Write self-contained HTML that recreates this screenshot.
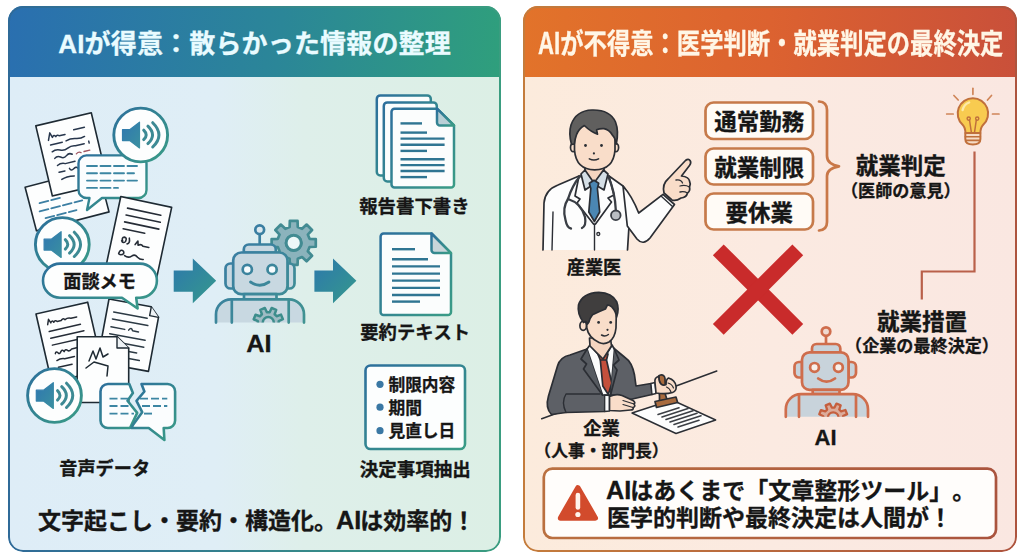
<!DOCTYPE html>
<html lang="ja">
<head>
<meta charset="utf-8">
<title>AIが得意・不得意</title>
<style>
html,body{margin:0;padding:0;background:#fff;}
body{width:1024px;height:559px;position:relative;overflow:hidden;
  font-family:"Liberation Sans","Noto Sans CJK JP",sans-serif;color:#161616;text-spacing-trim:space-all;font-kerning:none;}
.panel{position:absolute;top:6px;height:546px;box-sizing:border-box;border-radius:15px;overflow:hidden;}
#pl{left:8px;width:493px;background:linear-gradient(90deg,#deedf7 0%,#dfeef6 42%,#deefea 60%,#dcefe5 100%);}
#pr{left:523px;width:494px;background:linear-gradient(90deg,#fcebdc 0%,#fbeae1 50%,#fae7e1 100%);}
.frame{position:absolute;top:6px;height:546px;width:493px;box-sizing:border-box;border-radius:15px;border:2px solid transparent;pointer-events:none;}
#fl{left:8px;border-width:2.4px;background:linear-gradient(90deg,#2f6a98,#3a9d80) border-box;
  -webkit-mask:linear-gradient(#000 0 0) padding-box,linear-gradient(#000 0 0);-webkit-mask-composite:xor;mask-composite:exclude;}
#fr{left:523px;width:494px;border-width:2.5px;background:linear-gradient(90deg,#c47c3c,#ad543e) border-box;
  -webkit-mask:linear-gradient(#000 0 0) padding-box,linear-gradient(#000 0 0);-webkit-mask-composite:xor;mask-composite:exclude;}
.hdr{position:absolute;left:0;top:0;width:100%;height:71px;}
#pl .hdr{background:linear-gradient(96deg,#2a6fb0 0%,#2b8698 55%,#2f9f7c 100%);}
#pr .hdr{background:linear-gradient(90deg,#e2732a 0%,#dc6230 50%,#c9503a 100%);}
.hdr span{position:absolute;top:18px;white-space:nowrap;font-weight:700;font-size:26px;line-height:36px;transform-origin:0 50%;}
#pl .hdr span{left:50.3px;top:19.5px;color:#e9fbff;letter-spacing:0.16px;-webkit-text-stroke:0.3px #e9fbff;}
#pr .hdr span{left:15px;top:19.5px;font-size:28px;color:#fff6e6;transform:scaleX(0.833);-webkit-text-stroke:0.3px #fff6e6;}
.hdr span b{position:static;display:inline-block;font-size:31px;line-height:36px;vertical-align:baseline;transform:scaleX(0.86);transform-origin:0 70%;margin-right:-4.3px;}
.t{position:absolute;white-space:nowrap;font-weight:700;line-height:1;-webkit-text-stroke:0.3px #161616;transform:translateX(-50%);text-align:center;}
.tl{position:absolute;white-space:nowrap;font-weight:700;line-height:1;-webkit-text-stroke:0.3px #161616;}
svg{position:absolute;left:0;top:0;}
.ai{font-size:1.1em;line-height:0;margin:0 -0.04em;}
</style>
</head>
<body>
<div class="panel" id="pl"><div class="hdr"><span>AIが得意：散らかった情報の整理</span></div></div>
<div class="panel" id="pr"><div class="hdr"><span><b>AI</b>が不得意：医学判断・就業判定の最終決定</span></div></div>
<div class="frame" id="fl"></div>
<div class="frame" id="fr"></div>

<svg id="art" width="1024" height="559" viewBox="0 0 1024 559">
<defs>
<linearGradient id="gbt" x1="0" y1="0" x2="1" y2="1"><stop offset="0" stop-color="#2d6f9c"/><stop offset="1" stop-color="#3a9c86"/></linearGradient>
<linearGradient id="garr" x1="0" y1="0" x2="1" y2="1"><stop offset="0" stop-color="#2d78ac"/><stop offset="1" stop-color="#35998c"/></linearGradient>
<linearGradient id="gspk" x1="0" y1="0" x2="1" y2="1"><stop offset="0" stop-color="#2f77b0"/><stop offset="1" stop-color="#3a90a0"/></linearGradient>
<linearGradient id="grob" gradientUnits="userSpaceOnUse" x1="216" y1="230" x2="304" y2="322"><stop offset="0" stop-color="#3878a6"/><stop offset="1" stop-color="#409391"/></linearGradient>

<linearGradient id="gwarn" x1="0" y1="0" x2="1" y2="0"><stop offset="0" stop-color="#ba7040"/><stop offset="1" stop-color="#aa543e"/></linearGradient>
</defs>
<g id="leftart" stroke-linejoin="round" stroke-linecap="round">
<!-- doc2 (back lower-left) -->
<g transform="translate(25.1,187.3) rotate(-14.6)">
 <rect width="75" height="45" fill="#fdfefe" stroke="#1e2a33" stroke-width="1.6"/>
 <g stroke="#3c7fa3" stroke-width="1.8" fill="none" stroke-dasharray="9 3">
  <path d="M10,19 H34"/><path d="M8,27 H52"/><path d="M12,35 H44"/>
 </g>
</g>
<!-- doc1 -->
<g transform="translate(35.8,125.9) rotate(-13.3)">
 <rect width="57" height="72" fill="#fdfefe" stroke="#1e2a33" stroke-width="1.6"/>
 <g stroke="#27364c" stroke-width="1.500" fill="none">
  <path d="M9,17 l3,-7 l1.500,5 q2,-3 3.500,0 q2,-2 3.500,0 h6 M36,12.500 h11"/>
  <path d="M10,22 h12 M26,21.500 q5,-1.500 10,0 t9,0"/>
  <path d="M10,29 q4,-2 8,0 t8,0 t8,-0.500 h9 M48,27 v2"/>
  <path d="M11,36 q3,-2.500 6,0 t6,0 t6,0"/>
  <path d="M12,43.500 q4,-2 8,0 h10"/>
  <path d="M12,50.500 h6 M23,49 q1,3.500 4,1.500 t4,0"/>
  <path d="M13,58 q5,-2 13,-0.500"/>
 </g>
 <path d="M33,36.500 q3,-2 5,0 M41,36 h6" stroke="#a05560" stroke-width="1.300" fill="none"/>
</g>
<!-- bubble 1 -->
<path d="M86.5,155.4 H138.5 a8,8 0 0 1 8,8 V190 a8,8 0 0 1 -8,8 H102 L87,210 L89.5,198 H86.5 a8,8 0 0 1 -8,-8 V163.4 a8,8 0 0 1 8,-8 Z" fill="#fbfdfe" stroke="url(#gbt)" stroke-width="2.4"/>
<g stroke="#3c86a3" stroke-width="1.9" fill="none" stroke-dasharray="10 3.5">
 <path d="M87,166 H137"/><path d="M87,173.3 H134"/><path d="M87,180.6 H137"/><path d="M87,187.9 H118"/>
</g>
<!-- speaker 1 -->
<g transform="translate(140.7,135)">
 <circle r="26.900" fill="#fdfefe" stroke="url(#gbt)" stroke-width="2.900"/>
 <path d="M-18.200,-5.300 H-11 L-1.200,-12.800 V13 L-11,5.600 H-18.200 Z" fill="url(#gspk)" stroke="url(#gspk)" stroke-width="1.200" stroke-linejoin="round"/>
 <g fill="none" stroke="#3d8a94" stroke-width="3" stroke-linecap="round">
  <path d="M3,-4.800 Q8,0 3,4.600"/><path d="M7.200,-8.800 Q16.500,0 7.200,8.600"/><path d="M12,-12.300 Q24.500,0 12,12"/>
 </g>
</g>
<!-- doc3 -->
<g transform="translate(120.800,196.500) rotate(12)">
 <rect width="52" height="74" fill="#fdfefe" stroke="#1e2a33" stroke-width="1.6"/>
 <g stroke="#252c36" stroke-width="1.600" fill="none">
  <path d="M9,10 h34"/><path d="M9,17 h35"/><path d="M9,24 h35"/><path d="M9,31 h22"/>
  <path d="M11,43 q-2,-3 1,-4 q3,0 2,4 q-2,3 -4,0 M17,39 q2,5 -1,6 M24,44 l2,-4 l1,4 q3,-2 5,0 h6"/>
  <path d="M10,55 q1,-4 4,-2 q2,3 -2,4 q-3,0 -2,-2 M16,57 q4,2 7,-1 t6,0 q3,2 6,1"/>
 </g>
</g>
<!-- speaker 2 -->
<g transform="translate(62.300,244.500)">
 <circle r="26.900" fill="#fdfefe" stroke="url(#gbt)" stroke-width="2.900"/>
 <path d="M-18.200,-5.300 H-11 L-1.200,-12.800 V13 L-11,5.600 H-18.200 Z" fill="url(#gspk)" stroke="url(#gspk)" stroke-width="1.200" stroke-linejoin="round"/>
 <g fill="none" stroke="#3d8a94" stroke-width="3" stroke-linecap="round">
  <path d="M3,-4.800 Q8,0 3,4.600"/><path d="M7.200,-8.800 Q16.500,0 7.200,8.600"/><path d="M12,-12.300 Q24.500,0 12,12"/>
 </g>
</g>
<!-- doc4 -->
<g transform="translate(36,314) rotate(-12.9)">
 <rect width="53" height="70" fill="#fdfefe" stroke="#1e2a33" stroke-width="1.6"/>
 <g stroke="#252c36" stroke-width="1.500" fill="none">
  <path d="M9,13 l2,-5 l1.500,4 q1.500,-3 3,0 q2,-2 3.500,0 h4 q2,-2.500 4,0 q3,-1.500 6,0 h6"/>
  <path d="M9,20 h32"/><path d="M9,27 h34"/><path d="M9,34 h30"/>
  <path d="M10,43 q1,-3 3,0 q1,2 3,-1 q2,-2 3,1 q2,-3 4,0 q2,1 4,-1 h6"/>
  <path d="M10,50 q4,-1.500 8,0 h10"/><path d="M10,57 h14"/>
 </g>
</g>
<!-- doc5 -->
<g transform="translate(109,299) rotate(10.500)">
 <path d="M0,0 H43 L52,9 V64 H0 Z" fill="#fdfefe" stroke="#1e2a33" stroke-width="1.6"/>
 <path d="M43,0 V9 H52" fill="#eef3f6" stroke="#1e2a33" stroke-width="1.4"/>
 <g stroke="#2c3a44" stroke-width="1.5" fill="none">
  <path d="M7,12 h34"/><path d="M7,19 h36"/><path d="M7,27 h14 M25,27 q2,-4 4,0 h6"/><path d="M7,34 h36"/><path d="M7,41 h36"/><path d="M7,48 h30"/><path d="M7,55 h34"/>
 </g>
</g>
<!-- doc6 upright -->
<path d="M77.2,336.7 H117 L128.7,348 V402.5 H77.2 Z" fill="#fdfefe" stroke="#1e2a33" stroke-width="1.6"/>
<path d="M117,336.7 V348 H128.7" fill="#eef3f6" stroke="#1e2a33" stroke-width="1.4"/>
<path d="M89,361 l4,-10 l3,8 l4,-11 l3,9 l5,-3 M86,368 l8,-6 l14,4 l-1,10" stroke="#1e2a33" stroke-width="1.5" fill="none"/>
<!-- speaker 3 -->
<g transform="translate(54.500,395.500)">
 <circle r="26.900" fill="#fdfefe" stroke="url(#gbt)" stroke-width="2.900"/>
 <path d="M-18.200,-5.300 H-11 L-1.200,-12.800 V13 L-11,5.600 H-18.200 Z" fill="url(#gspk)" stroke="url(#gspk)" stroke-width="1.200" stroke-linejoin="round"/>
 <g fill="none" stroke="#3d8a94" stroke-width="3" stroke-linecap="round">
  <path d="M3,-4.800 Q8,0 3,4.600"/><path d="M7.200,-8.800 Q16.500,0 7.200,8.600"/><path d="M12,-12.300 Q24.500,0 12,12"/>
 </g>
</g>
<!-- broken bubble -->
<path d="M108,384 H129.3 L132.9,392.9 L127.5,400.8 L137.2,412.9 L130,428 H108 a7.5,7.5 0 0 1 -7.5,-7.5 V391.5 a7.5,7.5 0 0 1 7.500,-7.500 Z" fill="#fbfdfe" stroke="url(#gbt)" stroke-width="2.600"/>
<path d="M141.500,384 H167.600 a7.500,7.500 0 0 1 7.500,7.500 V420.500 a7.500,7.500 0 0 1 -7.500,7.500 H163.700 L164.400,440 L148.700,428 H131.500 L132.900,425 L142.200,412.200 L136.500,400.800 L144.400,391.500 Z" fill="#fbfdfe" stroke="url(#gbt)" stroke-width="2.600"/>
<g stroke="#3c86a3" stroke-width="1.900" fill="none" stroke-dasharray="8 3" stroke-linecap="butt">
 <path d="M109.500,398.600 H128"/><path d="M109.500,406 H131"/><path d="M109.500,413.600 H134"/>
 <path d="M140,398.600 H167.300"/><path d="M142,406 H167.300"/><path d="M144,413.600 H154"/>
</g>
<!-- 面談メモ bubble -->
<path d="M60.100,263.600 H139.800 a17.100,17.100 0 0 1 0,34.200 H136.200 L137.600,308.500 L122,297.800 H60.100 a17.100,17.100 0 0 1 0,-34.200 Z" fill="#fdfefe" stroke="url(#gbt)" stroke-width="2.600"/>
<!-- arrows -->
<path d="M173.7,270.5 H192.8 V258.4 L216.2,280.8 L192.8,303.3 V291.8 H173.7 Z" fill="url(#garr)" stroke="none"/>
<path d="M314.4,270.5 H333 V258.4 L356.4,280.8 L333,303.3 V291.8 H314.4 Z" fill="url(#garr)" stroke="none"/>
<!-- robot -->
<g id="robotL" stroke="url(#grob)" stroke-width="2.7" fill="#c8d8e1">
 <path transform="translate(293.700,242.900)" d="M15.88,-4.08 L22.07,-3.85 L22.07,3.85 L15.88,4.08 L14.12,8.35 L18.33,12.88 L12.88,18.33 L8.35,14.12 L4.08,15.88 L3.85,22.07 L-3.85,22.07 L-4.08,15.88 L-8.35,14.12 L-12.88,18.33 L-18.33,12.88 L-14.12,8.35 L-15.88,4.08 L-22.07,3.85 L-22.07,-3.85 L-15.88,-4.08 L-14.12,-8.35 L-18.33,-12.88 L-12.88,-18.33 L-8.35,-14.12 L-4.08,-15.88 L-3.85,-22.07 L3.85,-22.07 L4.08,-15.88 L8.35,-14.12 L12.88,-18.33 L18.33,-12.88 L14.12,-8.35 Z M7.60,0 a7.60,7.60 0 1 0 -15.20,0 a7.60,7.60 0 1 0 15.20,0 Z" fill="#8bb3bc" stroke="#428b92" stroke-width="2.700" stroke-linejoin="round" fill-rule="evenodd"/>
 <circle cx="293.700" cy="242.900" r="7.600" fill="#eef8f9" stroke="#428b92" stroke-width="3"/>
 <path d="M259.7,234.5 V244.5" fill="none"/>
 <circle cx="259.7" cy="229.8" r="4.4" fill="#dde9ef"/>
 <path d="M243.8,252.5 V249.5 a5,5 0 0 1 5,-5 H270.8 a5,5 0 0 1 5,5 V252.5 Z"/>
 <path d="M233.5,263.5 H230.5 a5,5 0 0 0 -5,5 V283.5 a5,5 0 0 0 5,5 H233.5 Z"/>
 <path d="M287.5,263.5 H289.5 a5,5 0 0 1 5,5 V283.5 a5,5 0 0 1 -5,5 H287.5 Z"/>
 <rect x="233.2" y="252.5" width="54.3" height="41.6" rx="8" ry="8"/>
 <circle cx="247.3" cy="269.4" r="4.6" fill="#f6fbfd"/>
 <circle cx="272.1" cy="269.4" r="4.6" fill="#f6fbfd"/>
 <path d="M250.5,282 Q259.8,288.5 269,282" fill="none" stroke-width="2.8"/>
 <rect x="244" y="294.1" width="32.5" height="5.3"/>
 <path d="M216,322.6 V314.4 a15,15 0 0 1 15,-15 H289 a15,15 0 0 1 15,15 V322.6" />
 <path d="M231.8,322.6 V300 M288.7,322.6 V300" fill="none"/>
 <clipPath id="clipL"><rect x="200" y="290" width="120" height="32.6"/></clipPath>
 <g clip-path="url(#clipL)">
  <path transform="translate(268.3,322.6)" d="M10.41,1.37 L14.62,3.35 L12.75,7.90 L8.36,6.35 L6.39,8.33 L7.97,12.71 L3.43,14.60 L1.43,10.40 L-1.37,10.41 L-3.35,14.62 L-7.90,12.75 L-6.35,8.36 L-8.33,6.39 L-12.71,7.97 L-14.60,3.43 L-10.40,1.43 L-10.41,-1.37 L-14.62,-3.35 L-12.75,-7.90 L-8.36,-6.35 L-6.39,-8.33 L-7.97,-12.71 L-3.43,-14.60 L-1.43,-10.40 L1.37,-10.41 L3.35,-14.62 L7.90,-12.75 L6.35,-8.36 L8.33,-6.39 L12.71,-7.97 L14.60,-3.43 L10.40,-1.43 Z M5.50,0 a5.50,5.50 0 1 0 -11.00,0 a5.50,5.50 0 1 0 11.00,0 Z" fill="#9fbcc4" stroke="#3d8d8c" stroke-width="2.500" stroke-linejoin="round" fill-rule="evenodd"/>
 </g>
</g>
<!-- stacked docs -->
<g stroke="url(#gbt)" stroke-width="2.500" fill="#fbfdfd">
 <rect x="376.800" y="95.400" width="54" height="80" rx="3.500"/>
 <rect x="383.800" y="102.400" width="53" height="79" rx="3.500"/>
 <path d="M394.500,108.700 H437 L454,125.500 V184.600 a3,3 0 0 1 -3,3 H394.500 a3,3 0 0 1 -3,-3 V111.700 a3,3 0 0 1 3,-3 Z"/>
 <path d="M437,108.700 V122.500 a3,3 0 0 0 3,3 H454 Z" fill="#b9cfd6"/>
</g>
<g stroke="#2f7592" stroke-width="2.400" fill="none" stroke-linecap="butt">
 <path d="M400.500,123.400 H422"/><path d="M400.500,132.600 H427"/><path d="M400.500,138.600 H444.600"/><path d="M400.500,144.700 H444.600"/>
 <path d="M400.500,150.900 H427"/><path d="M400.500,159.200 H444.600"/><path d="M400.500,165.100 H444.600"/><path d="M400.500,171 H444.600"/><path d="M400.500,177.100 H427"/>
</g>
<!-- single doc -->
<g stroke="url(#gbt)" stroke-width="2.500" fill="#fbfdfd" transform="translate(0,0.600)">
 <path d="M383.6,232.9 H431.5 L451,252.5 V311.4 a3,3 0 0 1 -3,3 H383.6 a3,3 0 0 1 -3,-3 V235.9 a3,3 0 0 1 3,-3 Z"/>
 <path d="M431.5,232.9 V249.5 a3,3 0 0 0 3,3 H451 Z" fill="#c9d6da"/>
</g>
<g stroke="#2f7592" stroke-width="2.400" fill="none" stroke-linecap="butt" transform="translate(0,0.600)">
 <path d="M392,248.6 H415"/><path d="M392,258.6 H428"/><path d="M392,265.8 H440"/><path d="M392,273 H440"/>
 <path d="M392,280 H440"/><path d="M392,287.3 H440"/><path d="M392,294.4 H440"/><path d="M392,301 H420"/>
</g>
<!-- bullet box -->
<rect x="365.5" y="365.5" width="99.5" height="83.5" rx="5" fill="#fcfefe" stroke="url(#gbt)" stroke-width="2.6"/>
<g fill="#3a78a4"><circle cx="380" cy="384.3" r="3.6"/><circle cx="380" cy="407.2" r="3.6"/><circle cx="380" cy="430.7" r="3.6"/></g>
</g>

<g id="rightart" stroke-linejoin="round" stroke-linecap="round">
<!-- option boxes -->
<g fill="#fffbf6" stroke="#c67a4a" stroke-width="2.700">
 <rect x="705.5" y="102.5" width="107.5" height="36.5" rx="8"/>
 <rect x="705.5" y="148.5" width="107.5" height="36" rx="8"/>
 <rect x="705.5" y="193.5" width="107.5" height="36" rx="8"/>
</g>
<!-- brace -->
<path d="M819,101.5 Q827,102 827,110 V156 Q827,164 839,166.3 Q827,168.5 827,176 V222 Q827,230 819,230.5" fill="none" stroke="#c97848" stroke-width="2.700"/>
<!-- connector line -->
<path d="M974.5,151.500 V271.5 H921.8 V299.5" fill="none" stroke="#b9604a" stroke-width="2.2" stroke-linecap="butt" stroke-linejoin="miter"/>
<!-- bulb -->
<g stroke="#c0703c" stroke-width="2" fill="none">
 <g stroke="#cf8558" stroke-width="1.700">
 <path d="M972.900,88.300 V94.300"/><path d="M946.700,114 H953.200"/><path d="M992.500,114 H999"/>
 <path d="M953.900,95.500 L958.200,100"/><path d="M991.500,95.500 L987.500,100"/>
 </g>
 <path d="M972.900,98.300 a15.200,15.200 0 0 1 10.300,26.400 q-2.600,2.600 -2.900,8.300 H965.500 q-0.300,-5.700 -2.900,-8.300 a15.200,15.200 0 0 1 10.300,-26.400 Z" fill="#f8cb50"/>
 <path d="M965.300,133 H980.400 V139 q0,5.500 -7.500,5.500 q-7.600,0 -7.600,-5.500 Z" fill="#f6dcc6"/>
 <path d="M965.300,136.700 H980.400 M965.800,140.400 H980" stroke-width="1.600"/>
 <path d="M971.400,132.500 L969.500,120 M974.500,132.500 L976.300,120" stroke-width="1.500"/>
 <circle cx="968.700" cy="118.600" r="1.600" stroke-width="1.400"/><circle cx="977.200" cy="118.600" r="1.600" stroke-width="1.400"/>
 <path d="M962.600,110 q1.200,-5.500 6.500,-7.500" stroke="#fdeaa8" stroke-width="2.400"/>
</g>
<!-- red X -->
<g stroke="#c92b2b" stroke-width="15.300" stroke-linecap="butt" fill="none">
 <path d="M718.300,249.800 L797.800,329.300"/><path d="M797.800,249.800 L718.300,329.300"/>
</g>
<!-- robot right -->
<g id="robotR" stroke="#cf6d4c" stroke-width="2.7" fill="#c8d3db">
 <path d="M826,336 V344.5" fill="none"/>
 <circle cx="826" cy="331.600" r="4.300" fill="#efd9d0"/>
 <path d="M812,352.300 V348.500 a4.500,4.500 0 0 1 4.500,-4.500 H835.800 a4.500,4.500 0 0 1 4.500,4.500 V352.300 Z"/>
 <path d="M802,362 H799 a4.500,4.500 0 0 0 -4.500,4.500 V373 a4.500,4.500 0 0 0 4.500,4.500 H802 Z"/>
 <path d="M848.500,362 H851.500 a4.500,4.500 0 0 1 4.500,4.500 V373 a4.500,4.500 0 0 1 -4.500,4.500 H848.500 Z"/>
 <rect x="802" y="352.300" width="46.500" height="37.500" rx="7.500"/>
 <circle cx="814.500" cy="367.400" r="4.400" fill="#f8efea"/>
 <circle cx="838.400" cy="367.400" r="4.400" fill="#f8efea"/>
 <path d="M818.200,378.500 Q826.500,384.800 835,378.500" fill="none" stroke-width="2.800"/>
 <rect x="812.700" y="389.800" width="26.800" height="4.400"/>
 <path d="M785.800,416.800 V409.200 a15,15 0 0 1 15,-15 H853 a15,15 0 0 1 15,15 V416.800"/>
 <path d="M799,416.800 V395 M856,416.800 V395" fill="none"/>
 <clipPath id="clipR"><rect x="780" y="390" width="100" height="26.800"/></clipPath>
 <g clip-path="url(#clipR)">
  <path transform="translate(833.200,417.500)" d="M9.91,1.30 L13.91,3.30 L12.21,7.44 L7.97,6.05 L6.09,7.93 L7.50,12.17 L3.38,13.90 L1.36,9.91 L-1.30,9.91 L-3.30,13.91 L-7.44,12.21 L-6.05,7.97 L-7.93,6.09 L-12.17,7.50 L-13.90,3.38 L-9.91,1.36 L-9.91,-1.30 L-13.91,-3.30 L-12.21,-7.44 L-7.97,-6.05 L-6.09,-7.93 L-7.50,-12.17 L-3.38,-13.90 L-1.36,-9.91 L1.30,-9.91 L3.30,-13.91 L7.44,-12.21 L6.05,-7.97 L7.93,-6.09 L12.17,-7.50 L13.90,-3.38 L9.91,-1.36 Z M5.20,0 a5.20,5.20 0 1 0 -10.40,0 a5.20,5.20 0 1 0 10.40,0 Z" fill="#dbab9a" stroke="#c55f3e" stroke-width="2.300" fill-rule="evenodd"/>
 </g>
</g>
<!-- warning box -->
<rect x="543.800" y="468.600" width="452.200" height="69.400" rx="8.500" fill="#fffdfb" stroke="url(#gwarn)" stroke-width="2.700"/>
<path d="M577.900,487.800 L595.300,518 H560.500 Z" fill="#d24b2c" stroke="#d24b2c" stroke-width="5.400"/>
<path d="M577.900,495 V507.500" stroke="#fff4ec" stroke-width="4.600" fill="none"/>
<circle cx="577.900" cy="514.500" r="2.600" fill="#fff4ec" stroke="none"/>
<g id="doctor" stroke="#2b2e34" stroke-width="1.700" stroke-linejoin="round" stroke-linecap="round">
 <!-- coat body -->
 <path d="M543,250 L544,203 Q545,190 558,185 L579,176 L594,181 L609,176 L623,186 Q631,194 629,226 L627.500,250" fill="#fdfdfd"/>
 <!-- arm -->
 <path d="M623,186 Q632,196 638.700,213 L663,194.400 L674.500,204.500 L650,238 Q643,246 637,239 L627.300,226 Z" fill="#fdfdfd"/>
 <path d="M661,196 L672.500,206.500" fill="none" stroke-width="1.400"/>
 <!-- hand -->
 <path d="M664,193 Q662,184 668,179 L685.500,160.500 Q688.500,158 690.200,160.800 Q691.500,163 689.500,165.500 L681.500,176 Q689,177 689.500,181 Q691,184 689.500,187 Q690.500,191 687.500,193 Q686.500,197.500 681,198 Q676,201.500 672,200 Z" fill="#f9ddc9"/>
 <path d="M676,180 Q681,179 682.500,183 M680,186 Q685,184.500 689.500,187 M680,192 Q684,191 687.500,193" fill="none" stroke-width="1.300"/>
 <!-- neck -->
 <path d="M585,164 V178 L594,186 L604,178 V164 Z" fill="#f5d5c0"/>
 <!-- shirt collar -->
 <path d="M581,174 L585,170 L594,183 L603.500,170 L608,174 L604,190 L594,184 L585,190 Z" fill="#d5dfe6"/>
 <!-- tie -->
 <path d="M589.300,183.300 L594,180.300 L598.700,183.300 L597.400,188.500 L599.700,212 L594.400,221.500 L588.800,212 L590.800,188.500 Z" fill="#4b87b3"/>
 <!-- lapels -->
 <path d="M579,176 L575,196 L580,199 L577,203 L593.500,224" fill="none"/>
 <path d="M609,176 L614,195 L608,198 L611.500,202 L595.500,224" fill="none"/>
 <path d="M594.500,224 V250" fill="none" stroke-width="1.400"/>
 <circle cx="598.300" cy="234" r="1.500" fill="#fff" stroke-width="1.300"/>
 <!-- left arm line -->
 <path d="M553,212 L552,250" fill="none" stroke-width="1.400"/>
 <!-- stethoscope -->
 <g fill="none" stroke="#3a3e45" stroke-width="2.300">
  <path d="M580,176 Q572,186 568,199"/>
  <path d="M568,199 Q562,208 565.500,220 Q567,228 571,228.500"/>
  <path d="M568,199 Q581,203 585,217 Q586.500,226 582,228"/>
  <path d="M608.500,177 Q615,192 615.800,210"/>
 </g>
 <circle cx="615.800" cy="215.300" r="4.800" fill="#b9bdc2" stroke="#3a3e45" stroke-width="1.800"/>
 <!-- ears -->
 <ellipse cx="573.300" cy="147.500" rx="2.800" ry="4.200" fill="#f9ddc9"/>
 <ellipse cx="615.800" cy="147.500" rx="2.800" ry="4.200" fill="#f9ddc9"/>
 <!-- face -->
 <path d="M574.500,135 Q574.500,120 594.500,120 Q615,120 615,135 V150 Q613.500,169.800 594.700,169.800 Q576,169.800 574.500,150 Z" fill="#f9ddc9"/>
 <!-- hair -->
 <path d="M571.500,144.500 Q568.500,133 571,125 Q576,110.500 592,110 Q610,109.500 615.500,122 Q619,131 616.300,144 Q615.500,138 612.200,134.800 Q609,129.500 604,128.600 Q600,128.300 596.600,129.800 L597.500,134.100 Q591,132 584.300,125.500 Q578.500,129 576.500,134.800 Q575,139 574.300,144 Z" fill="#605f5e"/>
 <!-- features -->
 <circle cx="585.500" cy="145.500" r="1.400" fill="#2b2e34" stroke="none"/>
 <circle cx="601.500" cy="145.500" r="1.400" fill="#2b2e34" stroke="none"/>
 <circle cx="593.900" cy="153.400" r="1.100" fill="#2b2e34" stroke="none"/>
 <path d="M589.300,158.800 Q594,161.300 598.600,158.800" fill="none" stroke-width="1.500"/>
</g>

<g id="biz" stroke="#2b2e34" stroke-width="1.700" stroke-linejoin="round" stroke-linecap="round">
 <!-- desk lines -->
 <path d="M541.700,418.800 L557.500,413" fill="none" stroke-width="1.500"/>
 <path d="M672,387.500 L716.800,371" fill="none" stroke-width="1.500"/>
 <!-- paper -->
 <path d="M632,413 L672,400 L715.700,420 L676,433.500 Z" fill="#fdfdfd" stroke-width="1.400"/>
 <g stroke="#3c3f45" stroke-width="1.600" fill="none">
  <path d="M658,414.500 L679,407.700"/><path d="M662,417 L688,408.600"/><path d="M666,419.500 L693,410.800"/><path d="M670,422 L697,413.300"/><path d="M674,424.500 L701,415.800"/><path d="M678,427 L699,420.200"/>
 </g>
 <!-- body suit -->
 <path d="M551.500,414.500 Q545,408 548.500,396 L557.500,366 Q560,357 570,355 L587,349 L603,362 L613.500,348 L625,357.500 Q632,362 634.500,375 L636,386 L651,383.500 L652,394.500 L628,400 L622,396 L605,394.500 L604.700,411.500 L566,412.500 Z" fill="#5d6066"/>
 <!-- shirt -->
 <path d="M587,349 L590,345 L603,360 L612,345 L614.500,349.500 L610.500,395 L602.500,395 Z" fill="#fbfbfb"/>
 <!-- tie -->
 <path d="M598,354.500 L602.800,350.800 L608,354 L606.500,360 L611.800,383 L608.300,394.500 L602.800,386 L600.300,360 Z" fill="#c4503c"/>
 <path d="M600.300,360 L606.500,360" fill="none" stroke-width="1.300"/>
 <!-- lapels -->
 <path d="M587,349 L581,359 L586.500,364 L583.500,369 L602.500,395" fill="#565a60"/>
 <path d="M614.500,349.500 L619,360 L613.500,365 L617,370 L610.500,395" fill="#565a60"/>
 <!-- left arm fold lines -->
 <path d="M566,412.500 Q561,402 566,394 L600,394" fill="none" stroke-width="1.400"/>
 <!-- cuffs -->
 <path d="M604.700,395 L609.500,395.500 L609.500,411 L604.700,411.500 Z" fill="#fbfbfb" stroke-width="1.300"/>
 <path d="M651,383.500 L655,382.500 L656,393.500 L652,394.500 Z" fill="#fbfbfb" stroke-width="1.300"/>
 <!-- left hand -->
 <path d="M609.500,396.500 Q616,393.500 622,395.500 L633,400.500 Q636,402.500 634,404 Q636,406.500 633,407.500 Q634,410 630.500,410 L620,411 L609.500,410.500 Z" fill="#f9ddc9"/>
 <path d="M623,400.500 L634,404 M623,404.500 L633,407.500" fill="none" stroke-width="1.200"/>
 <!-- stamp handle + base -->
 <path d="M658,380 Q657,376 660.500,375 Q664.500,374.500 665,378.500 L665.500,395 L667,399.500 L659.500,401 L659.500,396 Z" fill="#a96b3e"/>
 <path d="M655,401.500 L676,397 L677.600,402.500 L656.500,407.500 Z" fill="#a96b3e"/>
 <!-- right hand -->
 <path d="M655,383 Q654,377 659,376.500 Q658.500,381 661,384 Q663.500,386 666,384.500 Q666,379 668.500,378 Q675,380 676,386 Q677,391 672.500,392.500 Q666,394.500 656,393 Z" fill="#f9ddc9"/>
 <path d="M668,383 Q672,384 673.500,388 M666.500,387 Q670,388.500 671,392" fill="none" stroke-width="1.200"/>
 <!-- neck -->
 <path d="M589.500,338 L590,346 L603,359 L611.500,346 L610.500,338 Z" fill="#f5d5c0"/>
 <!-- ear -->
 <ellipse cx="583.200" cy="325.800" rx="3.300" ry="4.600" fill="#f9ddc9"/>
 <!-- face -->
 <path d="M586.500,312 Q588,300 602,300 Q616.500,300 616.300,314 L616,328 Q615,338 609,342 Q604,344.800 599,342.500 Q588.500,337.500 586.800,328 Z" fill="#f9ddc9"/>
 <!-- hair -->
 <path d="M583.500,322.500 Q577,314 578.500,305 Q582,293 598.900,292.300 Q612,292.500 616.800,302 Q619.500,309 616.600,317 Q616,311.500 611.800,306.900 Q609.500,305 607.500,304.800 L605.400,309 Q599,311.500 592.500,314.800 Q590,318 588.900,322 L587.500,324 Q586,320 583.500,322.500 Z" fill="#403e3e"/>
 <!-- features -->
 <circle cx="598.600" cy="322.400" r="1.400" fill="#2b2e34" stroke="none"/>
 <circle cx="610.700" cy="322.400" r="1.400" fill="#2b2e34" stroke="none"/>
 <circle cx="607.500" cy="329.800" r="1.100" fill="#2b2e34" stroke="none"/>
 <path d="M601.500,335 Q605,337 608.400,334.500" fill="none" stroke-width="1.500"/>
</g>

</g>

</svg>

<!-- left panel labels -->
<div class="t" style="left:99.600px;top:272.500px;font-size:18.200px;">面談メモ</div>
<div class="t" style="left:104.700px;top:459.700px;font-size:18.200px;">音声データ</div>
<div class="t" style="left:259.300px;top:332.500px;font-size:23px;transform:translateX(-50%) scaleX(1.1);">AI</div>
<div class="t" style="left:414.400px;top:198.200px;font-size:18.400px;">報告書下書き</div>
<div class="t" style="left:415.200px;top:324.300px;font-size:18.300px;">要約テキスト</div>
<div class="tl" style="left:388.500px;top:378px;font-size:16.700px;font-weight:700;">制限内容</div>
<div class="tl" style="left:388.500px;top:401px;font-size:16.700px;font-weight:700;">期間</div>
<div class="tl" style="left:388.500px;top:424.300px;font-size:16.700px;font-weight:700;">見直し日</div>
<div class="t" style="left:415.200px;top:461.400px;font-size:18.500px;">決定事項抽出</div>
<div class="tl" style="left:38px;top:510px;font-size:23px;">文字起こし・要約・構造化。<span class="ai">AI</span>は効率的！</div>

<!-- right panel labels -->
<div class="t" style="left:759.200px;top:112.300px;font-size:22.500px;">通常勤務</div>
<div class="t" style="left:759.200px;top:157.800px;font-size:22.500px;">就業制限</div>
<div class="t" style="left:759.200px;top:203px;font-size:22.500px;">要休業</div>
<div class="t" style="left:900.800px;top:156.400px;font-size:22.500px;">就業判定</div>
<div class="t" style="left:900.800px;top:182.500px;font-size:17.100px;">（医師の意見）</div>
<div class="t" style="left:922px;top:311.800px;font-size:22.500px;">就業措置</div>
<div class="t" style="left:922px;top:337.600px;font-size:17.100px;">（企業の最終決定）</div>
<div class="t" style="left:594px;top:259px;font-size:18.200px;">産業医</div>
<div class="t" style="left:601.500px;top:420px;font-size:18.300px;">企業</div>
<div class="t" style="left:601.500px;top:443.600px;font-size:16.800px;">（人事・部門長）</div>
<div class="t" style="left:825.500px;top:427px;font-size:22px;">AI</div>
<div class="tl" style="left:607px;top:478px;font-size:23px;line-height:27px;"><span class="ai">AI</span>はあくまで「文章整形ツール」。<br>医学的判断や最終決定は人間が！</div>
</body>
</html>
